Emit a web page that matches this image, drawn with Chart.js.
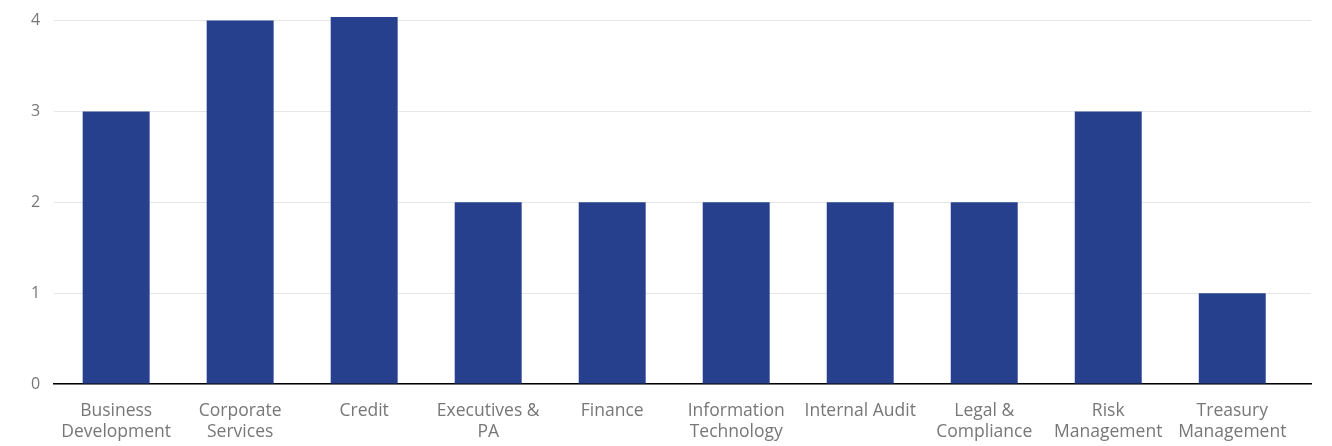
<!DOCTYPE html>
<html>
<head>
<meta charset="utf-8">
<script src="https://cdn.jsdelivr.net/npm/chart.js@4/dist/chart.umd.min.js"></script>
<style>
  html, body { margin: 0; padding: 0; background: #fff; overflow: hidden; }
  #wrap { width: 1332px; height: 449px; margin-top: -3px; position: relative; }
</style>
</head>
<body>
<div id="wrap"><canvas id="headcount"></canvas></div>
<script>
// headcount per department
var departments = [
  ['Business', 'Development'],
  ['Corporate', 'Services'],
  'Credit',
  ['Executives &', 'PA'],
  'Finance',
  ['Information', 'Technology'],
  'Internal Audit',
  ['Legal &', 'Compliance'],
  ['Risk', 'Management'],
  ['Treasury', 'Management']
];
var counts = [3, 4, 4.04, 2, 2, 2, 2, 2, 3, 1];
var yTicks = [0, 1, 2, 3, 4];

var barColor = '#26408e';
var textColor = '#777777';

// bars sit on a numeric x axis so the plot can run a little past the last slot
var points = counts.map(function (v, i) { return { x: i, y: v }; });

new Chart(document.getElementById('headcount'), {
  type: 'bar',
  data: {
    datasets: [{
      data: points,
      backgroundColor: barColor,
      barPercentage: 0.54,
      categoryPercentage: 1,
      clip: false
    }]
  },
  options: {
    responsive: true,
    maintainAspectRatio: false,
    animation: false,
    layout: { padding: { top: 11, right: 21, left: 17, bottom: -14 } },
    plugins: { legend: { display: false }, tooltip: { enabled: false } },
    scales: {
      x: {
        type: 'linear',
        offset: false,
        min: -0.5,
        max: 9.635,
        afterBuildTicks: function (axis) {
          axis.ticks = departments.map(function (d, i) { return { value: i }; });
        },
        grid: { display: false, drawTicks: false },
        border: { color: '#000', width: 1.5 },
        ticks: {
          color: textColor,
          font: { family: 'Open Sans', size: 17.5, lineHeight: 1.2 },
          padding: 17,
          maxRotation: 0,
          autoSkip: false,
          callback: function (value) { return departments[value]; }
        }
      },
      y: {
        min: 0,
        max: 4,
        afterBuildTicks: function (axis) {
          axis.ticks = yTicks.map(function (v) { return { value: v }; });
        },
        grid: { color: '#e6e6e6', drawTicks: false },
        border: { display: false },
        ticks: {
          color: textColor,
          font: { family: 'Open Sans', size: 16 },
          padding: 14
        }
      }
    }
  }
});
</script>
</body>
</html>
